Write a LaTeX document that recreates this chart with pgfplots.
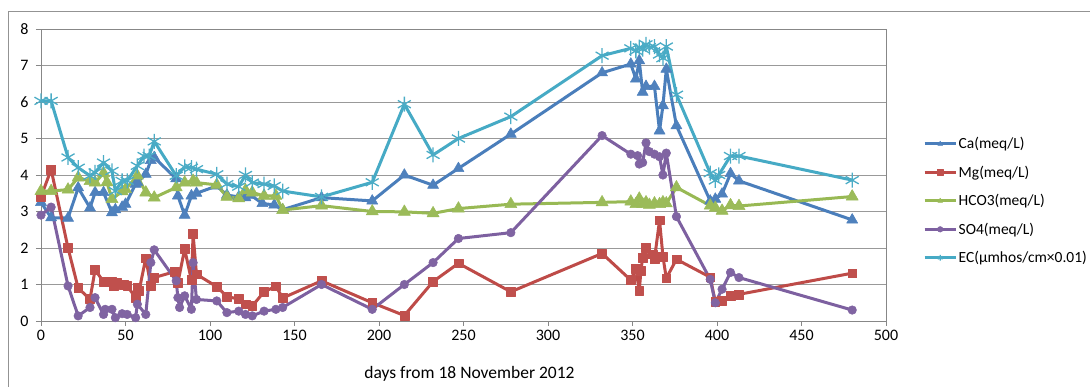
\documentclass[border=0pt]{standalone}
\usepackage{pgfplots}
\pgfplotsset{compat=1.18}
\usepackage{fontspec}
\setmainfont{Carlito}
\definecolor{caL}{HTML}{4A7EBB}\definecolor{caF}{HTML}{4F81BD}
\definecolor{mgL}{HTML}{BE4B48}\definecolor{mgF}{HTML}{C0504D}
\definecolor{hcL}{HTML}{98B954}\definecolor{hcF}{HTML}{9BBB59}
\definecolor{soL}{HTML}{7D60A0}\definecolor{soF}{HTML}{8064A2}
\definecolor{ecL}{HTML}{46AAC5}\definecolor{ecF}{HTML}{4BACC6}
\definecolor{gridc}{HTML}{878787}
\begin{document}
\begin{tikzpicture}[x=1pt,y=1pt]
\path[use as bounding box] (0,0) rectangle (1090,387);
\draw[gridc!90, line width=1pt] (8,0) -- (8,375) -- (1090,375);
\begin{axis}[
  at={(41pt,66pt)}, anchor=south west,
  scale only axis, width=845pt, height=292pt,
  xmin=0, xmax=500, ymin=0, ymax=8,
  xtick={0,50,...,500}, ytick={0,1,...,8},
  axis line style={gridc, line width=0.9pt},
  ymajorgrids, grid style={gridc!85, line width=0.9pt},
  tick style={gridc, line width=0.8pt},
  tick align=outside, major tick length=5pt,
  xtick pos=bottom, ytick pos=left,
  /pgf/number format/assume math mode=true,
  ticklabel style={font=\fontsize{16}{18}\selectfont},
  xticklabel style={yshift=-1pt},
  yticklabel style={xshift=-4pt},
  xlabel={days from 18 November 2012},
  xlabel style={font=\fontsize{17.5}{20}\selectfont, at={(rel axis cs:0.5,0)}, anchor=center, yshift=-53pt, xshift=6pt},
  every axis plot/.append style={line width=3pt, line join=round},
  legend style={draw=none, fill=none, at={(rel axis cs:1.0438,0.634)}, anchor=north west,
    font=\fontsize{15.5}{18}\selectfont, row sep=12.6pt, inner sep=0pt, nodes={inner sep=1.5pt}},
  legend cell align=left,
  legend image code/.code={\draw[#1, mark=none] (0pt,0pt) -- (31pt,0pt);
    \draw[#1, mark size=2.8pt, line width=1pt] plot coordinates {(15.5pt,0pt)};},
]
\addplot[caL, mark=triangle*, mark size=6.4pt, mark options={fill=caF, draw=caF, line width=0.5pt}] coordinates {
(0,3.25) (6,2.83) (16,2.82) (22,3.65) (29,3.1) (32,3.52) (37,3.52) (42,2.97) (44,3.05) (48,3.12) (50,3.2) (56,3.75) (57,3.8) (62,4.02) (65,4.4) (67,4.48) (80,3.9) (81,3.43) (85,2.9) (89,3.43) (92,3.5) (104,3.7) (110,3.45) (117,3.4) (121,3.38) (124,3.45) (131,3.22) (138,3.18) (143,3.05) (166,3.38) (196,3.29) (215,4.0) (232,3.72) (247,4.18) (278,5.12) (332,6.8) (349,7.04) (352,6.63) (354,7.13) (356,6.27) (358,6.43) (363,6.43) (366,5.21) (368,5.9) (370,6.9) (376,5.35) (396,3.29) (399,3.34) (403,3.48) (408,4.04) (413,3.84) (480,2.77)};
\addlegendentry{Ca(meq/L)}
\addplot[mgL, mark=square*, mark size=4.4pt, mark options={fill=mgF, draw=mgF, line width=0.5pt}] coordinates {
(0,3.4) (6,4.15) (16,2.0) (22,0.9) (29,0.6) (32,1.4) (37,1.08) (42,1.08) (43,0.95) (45,1.05) (49,1.0) (51,0.96) (56,0.64) (57,0.91) (58,0.82) (62,1.72) (65,0.96) (67,1.19) (79,1.35) (81,1.05) (85,1.97) (89,1.12) (90,2.38) (92,1.28) (104,0.94) (110,0.67) (117,0.6) (121,0.46) (125,0.41) (132,0.8) (139,0.95) (143,0.63) (166,1.1) (196,0.5) (215,0.15) (232,1.08) (247,1.58) (278,0.8) (332,1.85) (349,1.12) (352,1.44) (354,0.82) (355,1.38) (356,1.74) (358,2.01) (362,1.83) (363,1.69) (366,2.76) (368,1.77) (370,1.17) (376,1.69) (396,1.2) (399,0.52) (403,0.55) (408,0.69) (413,0.73) (480,1.31)};
\addlegendentry{Mg(meq/L)}
\addplot[hcL, mark=triangle*, mark size=7pt, mark options={fill=hcF, draw=hcF, line width=0.5pt}] coordinates {
(0,3.56) (6,3.56) (16,3.6) (22,3.93) (29,3.83) (32,3.79) (37,4.05) (39,3.8) (42,3.34) (48,3.55) (50,3.61) (57,3.98) (62,3.52) (67,3.38) (80,3.66) (85,3.79) (90,3.84) (92,3.79) (104,3.73) (110,3.4) (117,3.36) (121,3.58) (125,3.52) (132,3.43) (139,3.43) (143,3.04) (166,3.16) (196,3.0) (215,2.99) (232,2.95) (247,3.08) (278,3.2) (332,3.25) (349,3.27) (352,3.2) (354,3.35) (356,3.2) (358,3.25) (360,3.18) (363,3.22) (366,3.2) (368,3.25) (370,3.22) (376,3.66) (396,3.16) (399,3.1) (403,3.02) (408,3.17) (413,3.15) (480,3.41)};
\addlegendentry{HCO3(meq/L)}
\addplot[soL, mark=*, mark size=4.3pt, mark options={fill=soF, draw=soF, line width=0.5pt}] coordinates {
(0,2.9) (6,3.12) (16,0.96) (22,0.14) (29,0.37) (32,0.64) (37,0.18) (38,0.32) (42,0.32) (44,0.09) (48,0.2) (51,0.18) (56,0.09) (57,0.46) (62,0.18) (65,1.6) (67,1.95) (80,1.1) (81,0.64) (82,0.37) (85,0.69) (89,0.32) (90,1.6) (92,0.59) (104,0.55) (110,0.23) (117,0.27) (121,0.18) (125,0.14) (132,0.27) (139,0.32) (143,0.37) (166,1.0) (196,0.32) (215,1.0) (232,1.6) (247,2.26) (278,2.42) (332,5.08) (349,4.57) (353,4.53) (354,4.3) (356,4.34) (358,4.88) (360,4.64) (363,4.57) (366,4.5) (368,4.0) (370,4.6) (376,2.86) (396,1.14) (399,0.5) (403,0.87) (408,1.33) (413,1.19) (480,0.3)};
\addlegendentry{SO4(meq/L)}
\addplot[ecL, mark=asterisk, mark size=7.5pt, mark options={draw=ecF, line width=1.3pt}] coordinates {
(0,6.03) (6,6.03) (16,4.48) (22,4.2) (29,3.98) (32,4.07) (37,4.34) (42,4.11) (44,3.56) (48,3.84) (51,3.84) (57,4.25) (61,4.52) (64,4.52) (67,4.92) (80,3.98) (85,4.22) (89,4.2) (92,4.16) (104,4.02) (110,3.75) (117,3.68) (121,4.0) (125,3.79) (132,3.75) (138,3.7) (143,3.56) (166,3.4) (196,3.8) (215,5.94) (232,4.55) (247,5.0) (278,5.6) (332,7.27) (349,7.47) (352,7.4) (354,7.5) (356,7.45) (358,7.58) (360,7.5) (363,7.52) (366,7.3) (368,7.2) (370,7.52) (376,6.2) (396,4.05) (399,3.85) (401,4.0) (408,4.52) (413,4.52) (480,3.86)};
\addlegendentry{EC(μmhos/cm×0.01)}
\end{axis}
\end{tikzpicture}
\end{document}
